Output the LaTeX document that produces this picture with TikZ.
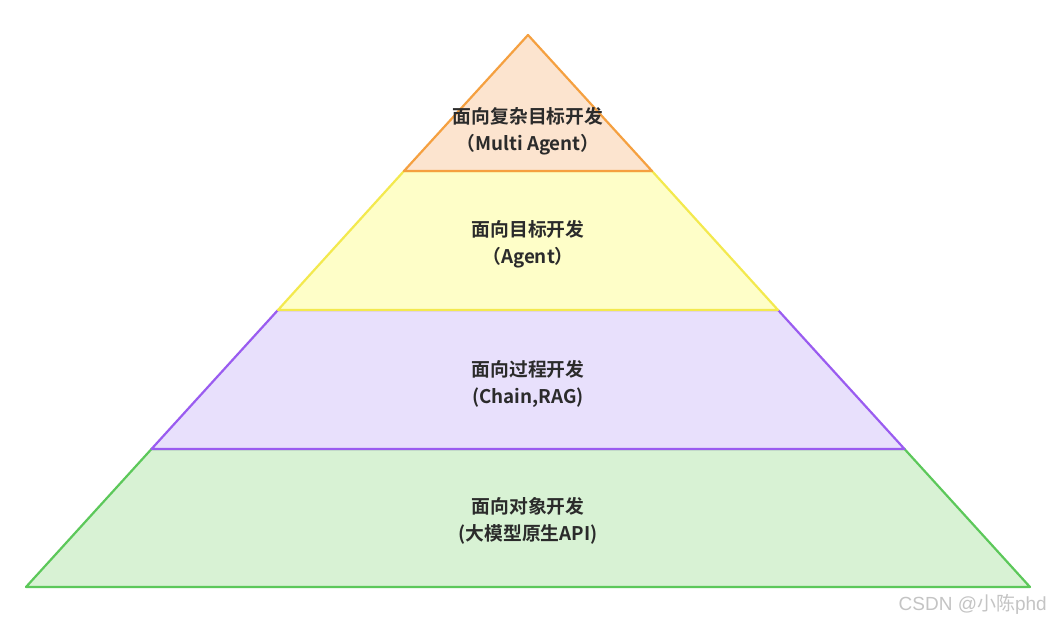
\documentclass[tikz,border=0pt]{standalone}
\usepackage{fontspec}
\setmainfont{Noto Sans CJK SC}
\newfontfamily\cjkbold{Noto Sans CJK SC Bold}
\newfontfamily\wmfont{Noto Sans CJK SC}
\newfontfamily\wmlatin{Liberation Sans}
\definecolor{orStroke}{HTML}{F5A040}
\definecolor{orFill}{HTML}{FCE4CF}
\definecolor{yeStroke}{HTML}{F3E94E}
\definecolor{yeFill}{HTML}{FEFEC8}
\definecolor{puStroke}{HTML}{9A5CF0}
\definecolor{puFill}{HTML}{E8E0FC}
\definecolor{grStroke}{HTML}{5CC85A}
\definecolor{grFill}{HTML}{D8F2D4}
\definecolor{txt}{HTML}{2B2B2B}
\definecolor{wm}{HTML}{C4C4C4}
\tikzset{
  layer/.style={line width=2.2pt, line join=round},
  lbl/.style={align=center, text=txt, font=\cjkbold\fontsize{18.8}{27}\selectfont, inner sep=0pt},
}
\begin{document}
\begin{tikzpicture}[x=1pt,y=-1pt]
\useasboundingbox[fill=white] (0,0) rectangle (1050,621);
\draw[layer, draw=grStroke, fill=grFill] (151.5,449) -- (904.5,449) -- (1030,587) -- (26,587) -- cycle;
\draw[layer, draw=puStroke, fill=puFill] (278,310) -- (778,310) -- (904.5,449) -- (151.5,449) -- cycle;
\draw[layer, draw=yeStroke, fill=yeFill] (404,171) -- (652,171) -- (778,310) -- (278,310) -- cycle;
\draw[layer, draw=orStroke, fill=orFill] (528,35) -- (652,171) -- (404,171) -- cycle;
\node[lbl] (l1) at (528,131) {面向复杂目标开发\\（Multi Agent）};
\node[lbl] (l2) at (528,244) {面向目标开发\\（Agent）};
\node[lbl] (l3) at (528,384) {面向过程开发\\(Chain,RAG)};
\node[lbl] (l4) at (528,521) {面向对象开发\\(大模型原生API)};
\node[text=wm, font=\fontsize{19}{19}\selectfont, anchor=east, inner sep=0pt] (wmk) at (1047,604) {{\wmlatin CSDN @}{\wmfont 小陈}{\wmlatin phd}};
\end{tikzpicture}
\end{document}
